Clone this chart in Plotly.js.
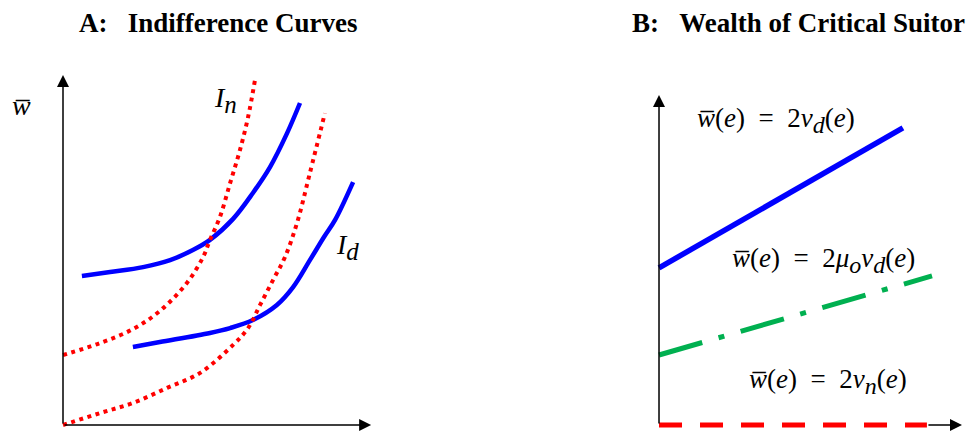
<!DOCTYPE html>
<html>
<head>
<meta charset="utf-8">
<script src="https://cdn.plot.ly/plotly-3.0.1.min.js"></script>
<style>html,body{margin:0;padding:0;background:#fff;}#chart{width:966px;height:448px;}</style>
</head>
<body>
<div id="chart"></div>
<script>
// ---- Panel A: indifference curves (effort e, wealth w), abstract units 0..10 ----
const idUpperE = [0.63, 1.57, 2.67, 3.57, 4.33, 4.9, 5.67, 6.33, 6.9, 7.47, 7.9];
const idUpperW = [4.26, 4.37, 4.51, 4.71, 5.0, 5.29, 5.89, 6.63, 7.37, 8.34, 9.2];
const idLowerE = [2.33, 3.23, 4.9, 5.57, 6.33, 7.13, 7.67, 8.23, 8.7, 9.07, 9.67];
const idLowerW = [2.23, 2.37, 2.63, 2.77, 3.0, 3.43, 3.94, 4.71, 5.37, 5.86, 6.94];
const inUpperE = [0, 1.23, 2.33, 3.23, 4.13, 4.67, 4.9, 5.23, 5.57, 5.9, 6.17, 6.4];
const inUpperW = [2.0, 2.34, 2.74, 3.26, 4.06, 4.8, 5.29, 5.94, 6.91, 7.86, 8.8, 9.86];
const inLowerE = [0, 1.23, 2.33, 3.47, 4.57, 5.67, 6.17, 6.57, 7.0, 7.4, 7.8, 8.23, 8.73];
const inLowerW = [0, 0.34, 0.63, 1.06, 1.49, 2.29, 2.77, 3.43, 4.14, 4.8, 5.77, 7.2, 8.91];

// ---- Panel B: wealth of critical suitor ----
const wdE = [0, 8.13];
const wdW = [4.49, 8.49];
const wmuE = [0, 9.1];
const wmuW = [2.0, 4.26];
const wnE = [0, 8.93];
const wnW = [0, 0];

// ---- Texts ----
const titleA = "A:\u00a0\u00a0\u00a0Indifference Curves";
const titleB = "B:\u00a0\u00a0\u00a0Wealth of Critical Suitor";
const wbar = "w\u0305";
const SUB = (s, px) => '<sub><span style="font-size:' + px + 'px">' + s + '</span></sub>';
const labelIn = "<i>I" + SUB("<i>n</i>", 25) + "</i>";
const labelId = "<i>I" + SUB("<i>d</i>", 25) + "</i>";
const eqD = "<i>" + wbar + "</i>(<i>e</i>)\u00a0\u00a0=\u00a0\u00a02<i>v</i>" + SUB("<i>d</i>", 24) + "(<i>e</i>)";
const eqMu = "<i>" + wbar + "</i>(<i>e</i>)\u00a0\u00a0=\u00a0\u00a02<i>\u03bc</i>" + SUB("<i>o</i>", 24) + "<i>v</i>" + SUB("<i>d</i>", 24) + "(<i>e</i>)";
const eqN = "<i>" + wbar + "</i>(<i>e</i>)\u00a0\u00a0=\u00a0\u00a02<i>v</i>" + SUB("<i>n</i>", 24) + "(<i>e</i>)";

const SERIF = "Liberation Serif, Times New Roman, serif";
const BLUE = "#0000FF", RED = "#FF0000", GREEN = "#00B050";

const traces = [
  {x: idUpperE, y: idUpperW, xaxis:'x', yaxis:'y', mode:'lines', line:{color:BLUE, width:4.5, shape:'spline'}},
  {x: idLowerE, y: idLowerW, xaxis:'x', yaxis:'y', mode:'lines', line:{color:BLUE, width:4.5, shape:'spline'}},
  {x: inUpperE, y: inUpperW, xaxis:'x', yaxis:'y', mode:'lines', line:{color:RED, width:4, dash:'4px,4.5px', shape:'spline'}},
  {x: inLowerE, y: inLowerW, xaxis:'x', yaxis:'y', mode:'lines', line:{color:RED, width:4, dash:'4px,4.5px', shape:'spline'}},
  {x: wdE, y: wdW, xaxis:'x2', yaxis:'y2', mode:'lines', line:{color:BLUE, width:5.5}},
  {x: wmuE, y: wmuW, xaxis:'x2', yaxis:'y2', mode:'lines', line:{color:GREEN, width:5, dash:'45px,17px,6px,17px'}},
  {x: wnE, y: wnW, xaxis:'x2', yaxis:'y2', mode:'lines', line:{color:RED, width:5, dash:'23px,18px'}}
];

function axisArrow(xref, yref, x0, y0, x1, y1) {
  return {xref:xref, yref:yref, axref:xref, ayref:yref, x:x1, y:y1, ax:x0, ay:y0,
    text:'', showarrow:true, arrowhead:2, arrowsize:1.6, arrowwidth:1.5, arrowcolor:'#000', standoff:0};
}

const annotations = [
  {xref:'paper', yref:'paper', x:0.2257, y:0.9487, xanchor:'center', yanchor:'middle', showarrow:false,
   text:'<b>'+titleA+'</b>', font:{family:SERIF, size:27, color:'#000'}},
  {xref:'paper', yref:'paper', x:0.652, y:0.9487, xanchor:'left', yanchor:'middle', showarrow:false,
   text:'<b>'+titleB+'</b>', font:{family:SERIF, size:27, color:'#000'}},
  axisArrow('x','y', 0, 0, 0, 10),
  axisArrow('x','y', 0, 0, 10.27, 0),
  axisArrow('x2','y2', 0, 0, 0, 9.43),
  axisArrow('x2','y2', 8.93, 0, 10.1, 0),
  {xref:'x', yref:'y', x:-1.37, y:9.14, xanchor:'center', yanchor:'middle', showarrow:false,
   text:'<i>'+wbar+'</i>', font:{family:SERIF, size:28, color:'#000'}},
  {xref:'x', yref:'y', x:10.13, y:-0.37, xanchor:'center', yanchor:'top', showarrow:false,
   text:'<i>e</i>', font:{family:SERIF, size:28, color:'#000'}},
  {xref:'x', yref:'y', x:4.97, y:9.29, xanchor:'left', yanchor:'middle', showarrow:false,
   text:labelIn, font:{family:SERIF, size:28, color:'#000'}},
  {xref:'x', yref:'y', x:9.03, y:5.09, xanchor:'left', yanchor:'middle', showarrow:false,
   text:labelId, font:{family:SERIF, size:28, color:'#000'}},
  {xref:'x2', yref:'y2', x:1.2, y:8.69, xanchor:'left', yanchor:'middle', showarrow:false,
   text:eqD, font:{family:SERIF, size:27, color:'#000'}},
  {xref:'x2', yref:'y2', x:2.37, y:4.69, xanchor:'left', yanchor:'middle', showarrow:false,
   text:eqMu, font:{family:SERIF, size:27, color:'#000'}},
  {xref:'x2', yref:'y2', x:2.93, y:1.23, xanchor:'left', yanchor:'middle', showarrow:false,
   text:eqN, font:{family:SERIF, size:27, color:'#000'}}
];

const hidden = {visible:false, showgrid:false, zeroline:false, fixedrange:true};
const layout = {
  width:966, height:448,
  margin:{l:0, r:0, t:0, b:0},
  paper_bgcolor:'#fff', plot_bgcolor:'#fff',
  showlegend:false,
  xaxis: Object.assign({domain:[0,1], range:[-2.1, 30.1], anchor:'y'}, hidden),
  yaxis: Object.assign({domain:[0,1], range:[-0.657, 12.143], anchor:'x'}, hidden),
  xaxis2: Object.assign({domain:[0,1], range:[-21.967, 10.233], anchor:'y2', overlaying:'x'}, hidden),
  yaxis2: Object.assign({domain:[0,1], range:[-0.657, 12.143], anchor:'x2', overlaying:'y'}, hidden),
  annotations: annotations
};

Plotly.newPlot('chart', traces, layout, {displayModeBar:false, staticPlot:true});
</script>
</body>
</html>
